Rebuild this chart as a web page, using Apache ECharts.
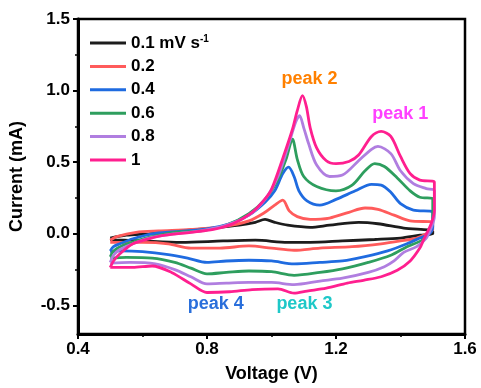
<!DOCTYPE html>
<html>
<head>
<meta charset="utf-8">
<script src="https://cdn.jsdelivr.net/npm/echarts@6/dist/echarts.min.js"></script>
<style>
  html, body { margin: 0; padding: 0; background: #fff; }
  #chart { width: 481px; height: 388px; }
</style>
</head>
<body>
<div id="chart"></div>
<script>
// Cyclic voltammograms at different scan rates (V vs current in mA).
const scanRates = ['0.1', '0.2', '0.4', '0.6', '0.8', '1'];
const curveColors = ['#1c1c1c', '#ff5b5b', '#1f6be0', '#2e9e5e', '#b07ee0', '#ff1f8f'];

// Anodic sweep 0.5 -> 1.5 V, then cathodic sweep 1.5 -> 0.5 V
const anodic01 = [[0.50,-0.03],[0.55,-0.01],[0.62,0.0],[0.72,0.02],[0.82,0.04],[0.90,0.06],[0.95,0.08],[0.98,0.10],[1.01,0.08],[1.05,0.06],[1.12,0.045],[1.18,0.06],[1.27,0.08],[1.33,0.07],[1.41,0.04],[1.50,0.02]];
const cathodic01 = [[1.50,0.0],[1.46,-0.01],[1.40,-0.03],[1.32,-0.04],[1.22,-0.05],[1.12,-0.06],[1.05,-0.06],[0.95,-0.045],[0.85,-0.05],[0.72,-0.06],[0.60,-0.05],[0.50,-0.04]];

const anodic02 = [[0.50,-0.045],[0.52,-0.02],[0.58,0.01],[0.65,0.02],[0.75,0.03],[0.85,0.05],[0.93,0.09],[0.98,0.15],[1.01,0.20],[1.035,0.235],[1.055,0.16],[1.08,0.12],[1.12,0.10],[1.18,0.11],[1.24,0.15],[1.29,0.18],[1.33,0.17],[1.38,0.13],[1.43,0.09],[1.50,0.08]];
const cathodic02 = [[1.50,0.03],[1.48,0.0],[1.45,-0.03],[1.40,-0.05],[1.34,-0.07],[1.25,-0.09],[1.15,-0.10],[1.07,-0.115],[1.00,-0.10],[0.93,-0.085],[0.84,-0.10],[0.75,-0.10],[0.68,-0.07],[0.60,-0.06],[0.54,-0.06],[0.50,-0.06]];

const anodic04 = [[0.50,-0.12],[0.51,-0.09],[0.53,-0.07],[0.57,-0.035],[0.63,0.0],[0.70,0.015],[0.80,0.035],[0.87,0.07],[0.93,0.13],[0.98,0.22],[1.01,0.30],[1.035,0.42],[1.053,0.465],[1.07,0.40],[1.085,0.30],[1.11,0.23],[1.15,0.20],[1.20,0.24],[1.26,0.30],[1.31,0.345],[1.34,0.34],[1.37,0.29],[1.40,0.21],[1.44,0.165],[1.50,0.15]];
const cathodic04 = [[1.50,0.05],[1.49,0.0],[1.46,-0.03],[1.42,-0.07],[1.36,-0.12],[1.29,-0.16],[1.22,-0.19],[1.15,-0.20],[1.07,-0.21],[1.00,-0.19],[0.93,-0.185],[0.86,-0.19],[0.80,-0.20],[0.74,-0.17],[0.68,-0.145],[0.60,-0.125],[0.53,-0.12],[0.50,-0.13]];

const anodic06 = [[0.50,-0.16],[0.51,-0.12],[0.54,-0.08],[0.58,-0.05],[0.63,-0.02],[0.70,0.01],[0.78,0.02],[0.86,0.06],[0.93,0.14],[0.98,0.24],[1.02,0.38],[1.045,0.52],[1.065,0.66],[1.08,0.52],[1.10,0.40],[1.14,0.33],[1.20,0.30],[1.25,0.34],[1.29,0.44],[1.32,0.49],[1.35,0.47],[1.39,0.39],[1.43,0.30],[1.46,0.255],[1.50,0.245]];
const cathodic06 = [[1.50,0.10],[1.49,0.03],[1.47,-0.04],[1.42,-0.09],[1.37,-0.15],[1.30,-0.20],[1.22,-0.245],[1.15,-0.27],[1.07,-0.29],[1.00,-0.265],[0.93,-0.26],[0.86,-0.27],[0.80,-0.28],[0.75,-0.24],[0.70,-0.20],[0.63,-0.17],[0.55,-0.165],[0.50,-0.17]];

const anodic08 = [[0.50,-0.20],[0.51,-0.15],[0.53,-0.11],[0.57,-0.07],[0.62,-0.03],[0.70,0.0],[0.78,0.02],[0.86,0.06],[0.93,0.13],[0.98,0.24],[1.02,0.40],[1.05,0.60],[1.075,0.78],[1.087,0.825],[1.10,0.74],[1.115,0.63],[1.14,0.48],[1.18,0.40],[1.22,0.41],[1.27,0.51],[1.31,0.59],[1.33,0.61],[1.37,0.56],[1.40,0.44],[1.44,0.35],[1.48,0.315],[1.505,0.30]];
const cathodic08 = [[1.505,0.12],[1.495,0.04],[1.48,-0.03],[1.45,-0.09],[1.41,-0.13],[1.38,-0.19],[1.35,-0.23],[1.30,-0.27],[1.22,-0.31],[1.15,-0.33],[1.07,-0.355],[1.00,-0.34],[0.93,-0.34],[0.86,-0.345],[0.80,-0.35],[0.75,-0.30],[0.70,-0.25],[0.64,-0.21],[0.56,-0.20],[0.50,-0.205]];

const anodic10 = [[0.50,-0.235],[0.51,-0.19],[0.53,-0.14],[0.57,-0.07],[0.62,-0.035],[0.67,-0.01],[0.75,0.01],[0.82,0.03],[0.88,0.07],[0.935,0.14],[0.975,0.23],[1.00,0.31],[1.04,0.56],[1.065,0.73],[1.08,0.86],[1.096,0.965],[1.108,0.89],[1.12,0.74],[1.14,0.60],[1.17,0.51],[1.20,0.49],[1.24,0.505],[1.27,0.55],[1.31,0.68],[1.34,0.715],[1.37,0.68],[1.40,0.54],[1.43,0.42],[1.46,0.375],[1.505,0.36]];
const cathodic10 = [[1.505,0.16],[1.495,0.07],[1.47,-0.05],[1.46,-0.10],[1.43,-0.19],[1.39,-0.255],[1.34,-0.30],[1.285,-0.325],[1.235,-0.345],[1.17,-0.38],[1.11,-0.40],[1.07,-0.415],[1.02,-0.385],[0.94,-0.39],[0.87,-0.405],[0.80,-0.41],[0.75,-0.35],[0.69,-0.27],[0.63,-0.225],[0.57,-0.235],[0.50,-0.235]];

const anodicSweeps = [anodic01, anodic02, anodic04, anodic06, anodic08, anodic10];
const cathodicSweeps = [cathodic01, cathodic02, cathodic04, cathodic06, cathodic08, cathodic10];

// Redox peak annotations, anchored in data coordinates
const peakNames = ['peak 2', 'peak 1', 'peak 4', 'peak 3'];
const peakPositions = [[1.118, 1.08], [1.399, 0.837], [0.827, -0.49], [1.102, -0.49]];
const peakColors = ['#ff8000', '#ff40ff', '#2a6fdb', '#1ec8c8'];

const xTicks = [0.4, 0.8, 1.2, 1.6];
const yTicks = [-0.5, 0.0, 0.5, 1.0, 1.5];
const yMinorTicks = [-0.25, 0.25, 0.75, 1.25];

const FONT = '"Liberation Sans", Arial, sans-serif';

const chart = echarts.init(document.getElementById('chart'), null, { renderer: 'canvas' });

const curveSeries = scanRates.map((rate, i) => ({
  name: rate,
  type: 'line',
  data: anodicSweeps[i].concat(cathodicSweeps[i]),
  showSymbol: false,
  symbol: 'none',
  smooth: 0.3,
  color: curveColors[i],
  lineStyle: { width: 2.8, color: curveColors[i] },
  z: 2 + i,
  animation: false
}));

chart.setOption({
  animation: false,
  backgroundColor: '#fff',
  grid: {
    left: 77, right: 16, top: 19, bottom: 53,
    show: true, borderColor: '#000', borderWidth: 2.5, backgroundColor: 'transparent'
  },
  legend: {
    data: scanRates,
    orient: 'vertical',
    left: 85,
    top: 29,
    itemWidth: 36,
    itemHeight: 18,
    itemGap: 5.4,
    icon: 'path://M0,0 L36,0 L36,3 L0,3 Z',
    textStyle: {
      fontFamily: FONT,
      fontWeight: 'bold',
      fontSize: 17,
      color: '#000',
      lineHeight: 18,
      rich: {
        sup: { fontFamily: FONT, fontWeight: 'bold', fontSize: 10, color: '#000', padding: [0, 0, 8, 0] }
      }
    },
    formatter: name => name === '0.1' ? '0.1 mV s{sup|-1}' : name
  },
  xAxis: {
    type: 'value',
    min: 0.4, max: 1.6, interval: 0.4,
    name: 'Voltage (V)',
    nameLocation: 'middle',
    nameGap: 31,
    nameTextStyle: { fontFamily: FONT, fontWeight: 'bold', fontSize: 18, color: '#000' },
    axisLine: { show: true, onZero: false, lineStyle: { color: '#000', width: 3 } },
    axisTick: { show: true, length: 5, lineStyle: { color: '#000', width: 2 } },
    minorTick: { show: true, splitNumber: 2, length: 3, lineStyle: { color: '#000', width: 1.5 } },
    axisLabel: {
      fontFamily: FONT, fontWeight: 'bold', fontSize: 17, color: '#000', margin: 7,
      customValues: xTicks,
      formatter: v => v.toFixed(1)
    },
    splitLine: { show: false }
  },
  yAxis: [{
    type: 'value',
    min: -0.7, max: 1.5,
    name: 'Current (mA)',
    nameLocation: 'middle',
    nameGap: 52,
    nameTextStyle: { fontFamily: FONT, fontWeight: 'bold', fontSize: 18, color: '#000' },
    axisLine: { show: true, onZero: false, lineStyle: { color: '#000', width: 3 } },
    axisTick: { show: true, length: 5, customValues: yTicks, lineStyle: { color: '#000', width: 2 } },
    axisLabel: {
      fontFamily: FONT, fontWeight: 'bold', fontSize: 17, color: '#000', margin: 8,
      customValues: yTicks,
      formatter: v => v.toFixed(1)
    },
    splitLine: { show: false }
  }, {
    type: 'value',
    min: -0.7, max: 1.5,
    position: 'left',
    axisLine: { show: false },
    axisTick: { show: true, length: 3, customValues: yMinorTicks, lineStyle: { color: '#000', width: 1.5 } },
    axisLabel: { show: false },
    splitLine: { show: false }
  }],
  series: curveSeries
});

// Peak labels placed through the chart's own coordinate conversion
chart.setOption({
  graphic: peakNames.map((name, i) => {
    const p = chart.convertToPixel({ xAxisIndex: 0, yAxisIndex: 0 }, peakPositions[i]);
    return {
      type: 'text',
      x: p[0], y: p[1],
      z: 100,
      style: {
        text: name,
        fill: peakColors[i],
        font: 'bold 18px ' + FONT,
        align: 'center',
        verticalAlign: 'middle'
      }
    };
  })
});
</script>
</body>
</html>
